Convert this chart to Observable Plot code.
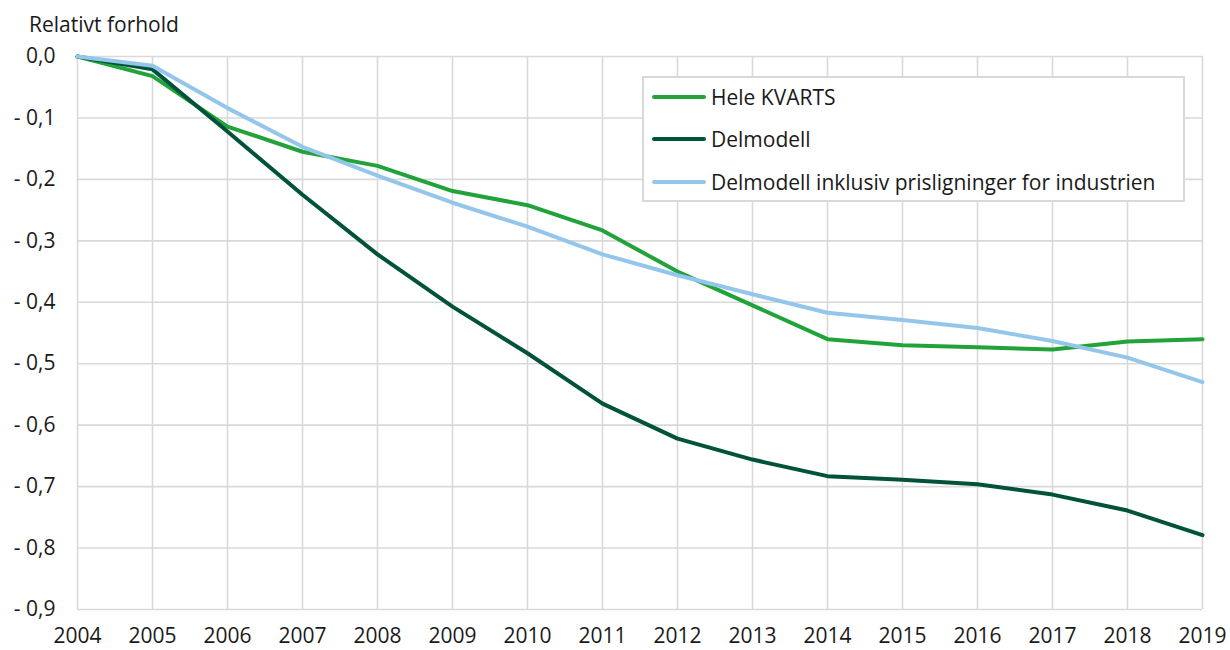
<!DOCTYPE html>
<html>
<head>
<meta charset="utf-8">
<script src="https://cdn.jsdelivr.net/npm/d3@7"></script>
<script src="https://cdn.jsdelivr.net/npm/@observablehq/plot@0.6"></script>
<style>
  body { margin: 0; background: #fff; font-family: "Open Sans", sans-serif; }
  #wrap { position: relative; width: 1230px; height: 650px; }
  #title { position: absolute; left: 29px; top: 10px; font-size: 21px; color: #1a1a1a; white-space: nowrap; }
  #legend { position: absolute; left: 642px; top: 76px; width: 539px; height: 122px;
            border: 2px solid #d9d9d9; background: #fff; }
  .row { position: absolute; left: 8px; height: 28px; display: flex; align-items: center; font-size: 21px; color: #1a1a1a; white-space: nowrap; }
  .sw { width: 54px; height: 4px; border-radius: 2px; margin-right: 5px; }
</style>
</head>
<body>
<div id="wrap">
  <div id="chart"></div>
  <div id="title"></div>
  <div id="legend"></div>
</div>
<script>
const years = [2004,2005,2006,2007,2008,2009,2010,2011,2012,2013,2014,2015,2016,2017,2018,2019];
const seriesNames = ["Hele KVARTS", "Delmodell", "Delmodell inklusiv prisligninger for industrien"];
const seriesColors = ["#22a33a", "#00533a", "#94c6ec"];
const heleKvarts = [0, -0.032, -0.114, -0.155, -0.178, -0.219, -0.242, -0.283, -0.350, -0.405, -0.460, -0.470, -0.473, -0.477, -0.464, -0.460];
const delmodell  = [0, -0.021, -0.122, -0.225, -0.322, -0.407, -0.483, -0.565, -0.622, -0.656, -0.683, -0.689, -0.696, -0.713, -0.739, -0.779];
const delmodellInkl = [0, -0.015, -0.084, -0.147, -0.194, -0.238, -0.277, -0.322, -0.356, -0.387, -0.417, -0.429, -0.442, -0.463, -0.490, -0.530];
const yTicks = [0, -0.1, -0.2, -0.3, -0.4, -0.5, -0.6, -0.7, -0.8, -0.9];
const yTitle = "Relativt forhold";

const allSeries = [heleKvarts, delmodell, delmodellInkl];
const data = [];
allSeries.forEach((vals, i) => years.forEach((yr, j) => data.push({year: yr, value: vals[j], series: seriesNames[i]})));

const fmtY = d => Math.abs(d) < 1e-9 ? "0,0" : "- " + Math.abs(d).toFixed(1).replace(".", ",");

const chart = Plot.plot({
  width: 1230,
  height: 650,
  marginLeft: 77,
  marginRight: 28,
  marginTop: 56,
  marginBottom: 41,
  style: {fontFamily: "Open Sans, sans-serif", fontSize: "21px", color: "#1a1a1a", background: "#fff"},
  x: {domain: [2004, 2019], ticks: years, tickFormat: d => String(d), label: null},
  y: {domain: [-0.9, 0], ticks: yTicks, tickFormat: fmtY, label: null},
  color: {domain: seriesNames, range: seriesColors},
  marks: [
    Plot.gridX(years, {stroke: "#d9d9d9", strokeOpacity: 1, strokeWidth: 1.6}),
    Plot.gridY(yTicks, {stroke: "#d9d9d9", strokeOpacity: 1, strokeWidth: 1.6}),
    Plot.axisX({ticks: years, tickSize: 0, tickPadding: 19, tickFormat: d => String(d), label: null, fontSize: 21}),
    Plot.axisY({ticks: yTicks, tickSize: 0, tickPadding: 22, tickFormat: fmtY, label: null, fontSize: 21}),
    Plot.line(data, {x: "year", y: "value", z: "series", stroke: "series", strokeWidth: 4, strokeLinejoin: "round", strokeLinecap: "round"})
  ]
});
document.getElementById("chart").appendChild(chart);

document.getElementById("title").textContent = yTitle;
const legend = document.getElementById("legend");
const rowTops = [5, 47, 90];
seriesNames.forEach((name, i) => {
  const row = document.createElement("div");
  row.className = "row";
  row.style.top = rowTops[i] + "px";
  const sw = document.createElement("div");
  sw.className = "sw";
  sw.style.background = seriesColors[i];
  const tx = document.createElement("span");
  tx.textContent = name;
  row.appendChild(sw);
  row.appendChild(tx);
  legend.appendChild(row);
});
</script>
</body>
</html>
